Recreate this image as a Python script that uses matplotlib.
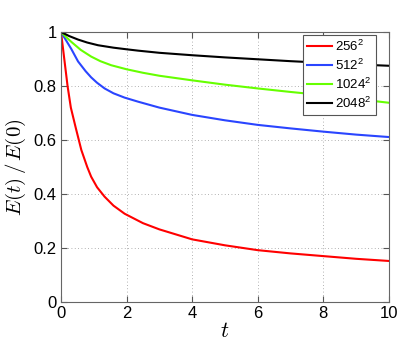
import matplotlib
matplotlib.use("Agg")
import matplotlib.pyplot as plt

# =====================================================
# Data
# =====================================================

t_256 = [0, 0.1, 0.2, 0.3, 0.45, 0.62, 0.8, 0.92, 1.1, 1.33, 1.6, 1.94, 2.5, 3,
         4, 5, 6, 7, 8, 9, 10]
e_256 = [1.0, 0.90, 0.80, 0.72, 0.645, 0.563, 0.50, 0.464, 0.425, 0.39, 0.357, 0.327,
         0.292, 0.269, 0.232, 0.21, 0.192, 0.18, 0.17, 0.16, 0.152]

t_512 = [0, 0.15, 0.31, 0.52, 0.75, 0.92, 1.1, 1.33, 1.6, 1.94, 2.35, 3, 4, 5, 6, 7, 8, 9, 10]
e_512 = [1.0, 0.97, 0.938, 0.891, 0.855, 0.832, 0.812, 0.791, 0.773, 0.757, 0.742, 0.72,
         0.693, 0.673, 0.656, 0.643, 0.631, 0.62, 0.611]

t_1024 = [0, 0.15, 0.31, 0.6, 0.92, 1.2, 1.53, 2, 2.5, 3, 4, 5, 6, 7, 8, 9, 10]
e_1024 = [1.0, 0.982, 0.964, 0.934, 0.909, 0.892, 0.877, 0.862, 0.849, 0.838, 0.821,
          0.805, 0.791, 0.778, 0.766, 0.752, 0.738]

t_2048 = [0, 0.25, 0.52, 0.8, 1.13, 1.6, 2, 2.35, 3, 4, 5, 6, 7, 8, 9, 10]
e_2048 = [1.0, 0.985, 0.972, 0.961, 0.951, 0.942, 0.936, 0.931, 0.923, 0.914, 0.906,
          0.899, 0.892, 0.886, 0.88, 0.875]

labels = ["256$^2$", "512$^2$", "1024$^2$", "2048$^2$"]
colors = ["#ff0000", "#2a45ff", "#66ff00", "#000000"]

x_ticks = [0, 2, 4, 6, 8, 10]
y_ticks = [0, 0.2, 0.4, 0.6, 0.8, 1]
y_ticklabels = ["0", "0.2", "0.4", "0.6", "0.8", "1"]

# =====================================================
# Plot
# =====================================================

plt.rcParams["font.family"] = ["Liberation Sans", "DejaVu Sans"]
plt.rcParams["mathtext.fontset"] = "cm"
plt.rcParams["mathtext.rm"] = "Liberation Sans"
plt.rcParams["mathtext.it"] = "Liberation Sans:italic"

fig = plt.figure(figsize=(4.15, 3.51), dpi=100)
ax = fig.add_axes([0.147, 0.1396, 0.79, 0.7692])

series = [(t_256, e_256), (t_512, e_512), (t_1024, e_1024), (t_2048, e_2048)]
for (t, e), lab, col in zip(series, labels, colors):
    ax.plot(t, e, color=col, lw=1.5, label=lab)

ax.set_xlim(0, 10)
ax.set_ylim(0, 1)
ax.set_xticks(x_ticks)
ax.set_yticks(y_ticks)
ax.set_xticklabels([str(v) for v in x_ticks])
ax.set_yticklabels(y_ticklabels)

ax.grid(True, linestyle=(0, (1, 3)), color="#999999", lw=0.6)
ax.tick_params(direction="in", top=True, right=True, labelsize=12, length=4,
               color="#555555", pad=3)
for sp in ax.spines.values():
    sp.set_color("#666666")
    sp.set_linewidth(0.8)

ax.set_xlabel("$t$", fontsize=16, labelpad=0)
ax.set_ylabel("$E(t)\\,/\\,E(0)$", fontsize=15, labelpad=4)

leg = ax.legend(loc="upper right", bbox_to_anchor=(0.96, 0.99), fontsize=9.5,
                fancybox=False, framealpha=1, edgecolor="#555555",
                handlelength=1.9, handletextpad=0.25, borderpad=0.3,
                labelspacing=0.28, borderaxespad=0.0)
leg.get_frame().set_linewidth(0.8)
for txt in leg.get_texts():
    txt.set_math_fontfamily("custom")

fig.savefig("out.png", dpi=100)
